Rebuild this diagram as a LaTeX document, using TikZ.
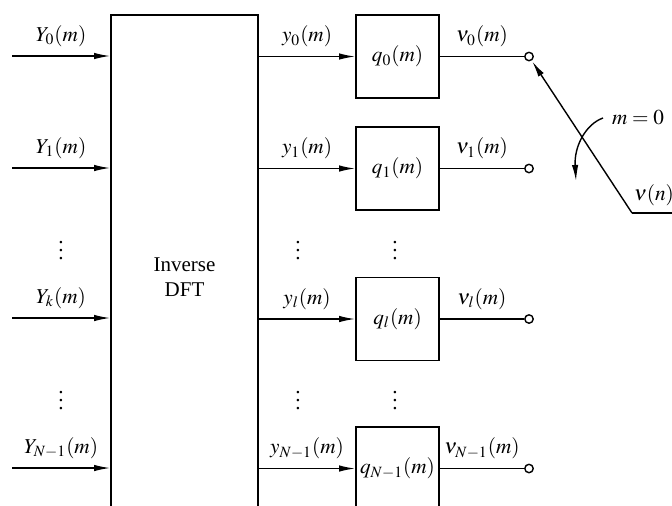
\documentclass[tikz,border=0pt]{standalone}
\usepackage{amsmath}
\usepackage{mathptmx}
\usepackage{fontspec}
\setmainfont{Liberation Serif}
\usepackage{tikz}
\usetikzlibrary{calc,arrows.meta,positioning}

\begin{document}
\begin{tikzpicture}[
  x=0.5pt,y=-0.5pt,
  line cap=butt,
  line join=miter,
  font=\fontsize{10.6}{12.5}\selectfont,
  >={Latex[length=8pt,width=3.2pt]},
  signal/.style={black,line width=0.7pt},
  blockbox/.style={draw=black,line width=0.8pt,minimum width=41.5pt,
    minimum height=41.5pt,inner sep=0pt},
  tapcircle/.style={circle,draw=black,fill=white,line width=0.7pt,
    inner sep=0pt,minimum size=4.2pt},
  dotsnode/.style={inner sep=0pt}
]
\clip (0,0) rectangle (672,505);

% inverse DFT block, open towards the bottom
\node[draw=black,line width=0.8pt,minimum width=73.5pt,minimum height=262pt,
  align=center,inner sep=0pt,font=\fontsize{10.5}{12.5}\selectfont]
  (dft) at (184.5,277) {Inverse\\DFT};

% inputs
\coordinate (in0) at (12,56);
\coordinate (in1) at (12,168);
\coordinate (ink) at (12,318);
\coordinate (inN) at (12,468);
\draw[signal,->] (in0) -- (in0 -| dft.west) node[midway,above=1pt] {$Y_0(m)$};
\draw[signal,->] (in1) -- (in1 -| dft.west) node[midway,above=1pt] {$Y_1(m)$};
\draw[signal,->] (ink) -- (ink -| dft.west) node[midway,above=1pt] {$Y_k(m)$};
\draw[signal,->] (inN) -- (inN -| dft.west) node[midway,above=1pt] {$Y_{N-1}(m)$};

% filter blocks
\node[blockbox] (q0) at (397.5,56.5) {$q_0(m)$};
\node[blockbox] (q1) at (397.5,168.5) {$q_1(m)$};
\node[blockbox] (ql) at (397.5,319) {$q_l(m)$};
\node[blockbox] (qN) at (397.5,468.5) {$q_{N-1}(m)$};

\draw[signal,->] (q0.west -| dft.east) -- (q0.west) node[midway,above=1pt] {$y_0(m)$};
\draw[signal,->] (q1.west -| dft.east) -- (q1.west) node[midway,above=1pt] {$y_1(m)$};
\draw[signal,->] (ql.west -| dft.east) -- (ql.west) node[midway,above=1pt] {$y_l(m)$};
\draw[signal,->] (qN.west -| dft.east) -- (qN.west) node[midway,above=1pt] {$y_{N-1}(m)$};

% output taps
\node[tapcircle] (o0) at (529,56.5) {};
\node[tapcircle] (o1) at (529,168.5) {};
\node[tapcircle] (ol) at (529,319) {};
\node[tapcircle] (oN) at (529,468.5) {};
\draw[signal] (q0.east) -- (o0) node[midway,above=1pt] {$\nu_0(m)$};
\draw[signal] (q1.east) -- (o1) node[midway,above=1pt] {$\nu_1(m)$};
\draw[signal] (ql.east) -- (ol) node[midway,above=1pt] {$\nu_l(m)$};
\draw[signal] (qN.east) -- (oN) node[midway,above=1pt] {$\nu_{N-1}(m)$};

% dots
\node[dotsnode] (dotsin1) at (61,245) {$\vdots$};
\node[dotsnode] (dotsin2) at (61,395) {$\vdots$};
\node[dotsnode] (dotsy1) at (298,245) {$\vdots$};
\node[dotsnode] (dotsy2) at (298,395) {$\vdots$};
\node[dotsnode] (dotsq1) at (395,245) {$\vdots$};
\node[dotsnode] (dotsq2) at (395,395) {$\vdots$};

% commutator
\coordinate (pivot) at (632,213);
\coordinate (swend) at (680,213);
\draw[signal] (swend) -- (pivot);
\draw[signal,->,shorten >=0.5pt] (pivot) -- (o0);
\node[above=0pt] (nu) at (654,213) {$\nu(n)$};

\node (mzero) at (638,118) {$m=0$};
\coordinate (rotstart) at (603,118);
\coordinate (rotend) at (576,181);
\draw[signal,->] (rotstart) .. controls (586,124) and (574,146) .. (rotend);
\end{tikzpicture}
\end{document}
